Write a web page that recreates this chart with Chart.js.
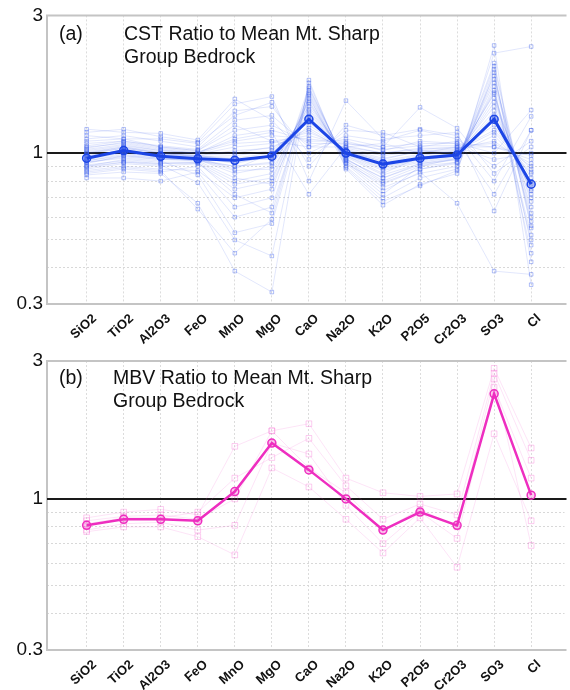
<!DOCTYPE html>
<html>
<head>
<meta charset="utf-8">
<script src="https://cdn.jsdelivr.net/npm/chart.js@4.4.1/dist/chart.umd.min.js"></script>
<style>
  html, body { margin: 0; padding: 0; background: #fff; }
  .wrap { position: absolute; left: 0; width: 570px; height: 345px; }
</style>
</head>
<body>
<div class="wrap" style="top:0"><canvas id="ca" width="570" height="345"></canvas></div>
<div class="wrap" style="top:345px"><canvas id="cb" width="570" height="345"></canvas></div>
<script>
const categories = ['SiO2','TiO2','Al2O3','FeO','MnO','MgO','CaO','Na2O','K2O','P2O5','Cr2O3','SO3','Cl'];

const yTickLabels = [3, 1, 0.3];
const yTicks = [0.3, 0.4, 0.5, 0.6, 0.7, 0.8, 0.9, 1, 2, 3];
const yGridValues = [0.4, 0.5, 0.6, 0.7, 0.8, 0.9];

const cstMean = [0.96, 1.02, 0.975, 0.955, 0.944, 0.976, 1.31, 1.0, 0.916, 0.96, 0.985, 1.31, 0.78];
const cstSamples = [
  [0.95, 1.02, 0.98, 0.97, 0.92, 0.98, 1.30, 1.00, 0.90, 0.95, 0.98, 1.30, 0.75],
  [1.10, 1.12, 1.05, 1.02, 1.25, 1.10, 1.05, 1.05, 1.08, 1.00, 1.05, 0.95, 1.00],
  [0.88, 0.92, 0.90, 0.92, 0.75, 0.80, 1.55, 0.95, 0.82, 0.92, 0.95, 1.75, 0.60],
  [0.85, 0.88, 0.86, 0.90, 0.65, 0.70, 1.70, 0.92, 0.78, 0.88, 0.92, 2.00, 0.55],
  [1.21, 1.18, 1.17, 1.11, 1.54, 1.30, 0.95, 1.20, 1.18, 1.05, 1.10, 0.72, 1.20],
  [1.00, 1.05, 1.00, 0.98, 1.00, 1.05, 1.20, 1.02, 0.95, 1.02, 1.00, 1.15, 0.85],
  [0.92, 0.98, 0.95, 0.95, 0.85, 0.90, 1.45, 0.98, 0.85, 0.97, 0.99, 1.60, 0.65],
  [1.05, 1.08, 1.03, 1.00, 1.15, 1.20, 1.10, 1.10, 1.02, 1.10, 1.08, 1.05, 0.95],
  [0.98, 1.00, 0.97, 0.96, 0.88, 1.00, 1.35, 1.00, 0.92, 0.96, 1.00, 1.45, 0.70],
  [0.90, 0.95, 0.93, 0.93, 0.80, 0.85, 1.50, 0.96, 0.80, 0.90, 0.96, 1.85, 0.58],
  [1.12, 1.15, 1.10, 1.05, 1.40, 1.45, 1.00, 1.15, 1.10, 1.20, 1.12, 0.90, 1.10],
  [0.96, 1.03, 0.99, 0.98, 0.95, 0.95, 1.25, 1.03, 0.93, 0.98, 1.02, 1.25, 0.80],
  [0.87, 0.90, 0.88, 0.87, 0.70, 0.75, 1.62, 0.94, 0.76, 0.85, 0.90, 2.22, 2.34],
  [1.02, 1.06, 1.02, 1.00, 1.08, 1.10, 1.15, 1.06, 1.00, 1.04, 1.04, 1.10, 0.90],
  [0.94, 0.99, 0.96, 0.94, 0.90, 0.92, 1.40, 0.99, 0.88, 0.94, 0.98, 1.55, 0.68],
  [1.08, 1.10, 1.06, 1.03, 1.30, 1.35, 1.05, 1.12, 1.05, 1.44, 1.22, 0.85, 1.05],
  [0.93, 0.96, 0.94, 0.84, 0.53, 0.57, 1.60, 0.92, 0.72, 0.90, 0.93, 1.70, 0.45],
  [0.99, 1.04, 1.00, 0.97, 0.98, 1.02, 1.28, 1.01, 0.94, 0.99, 1.01, 1.35, 0.78],
  [0.89, 0.93, 0.91, 0.79, 0.50, 0.44, 1.75, 0.90, 0.70, 0.82, 0.88, 1.95, 0.42],
  [1.15, 1.12, 1.12, 1.08, 1.35, 1.50, 0.90, 1.25, 1.15, 1.21, 1.15, 0.80, 1.34],
  [0.97, 1.01, 0.98, 0.96, 0.93, 0.97, 1.32, 1.00, 0.91, 0.96, 0.99, 1.40, 0.74],
  [0.84, 0.86, 0.85, 0.67, 0.39, 0.33, 1.79, 0.88, 0.66, 0.78, 0.85, 2.36, 0.35],
  [1.04, 1.09, 1.04, 1.01, 1.10, 1.15, 1.12, 1.08, 1.03, 1.06, 1.06, 1.08, 0.92],
  [0.91, 0.94, 0.92, 0.92, 0.78, 0.82, 1.52, 0.95, 0.82, 0.91, 0.95, 1.80, 0.62],
  [1.01, 1.05, 1.01, 0.99, 1.05, 1.08, 1.18, 1.04, 0.98, 1.02, 1.03, 1.20, 0.88],
  [0.86, 0.89, 0.87, 0.64, 0.45, 0.59, 1.68, 0.93, 0.74, 0.86, 0.67, 0.39, 0.38],
  [0.95, 1.00, 0.97, 0.95, 0.87, 0.88, 1.38, 0.98, 0.87, 0.93, 0.97, 1.62, 0.50],
  [1.06, 1.10, 1.05, 1.02, 1.20, 1.25, 1.08, 1.08, 1.05, 1.08, 1.08, 1.00, 1.41],
  [0.93, 0.97, 0.95, 0.94, 0.82, 0.78, 1.48, 0.97, 0.84, 0.92, 0.96, 1.65, 0.52],
  [0.98, 1.02, 0.99, 0.97, 0.96, 1.00, 1.28, 1.02, 0.92, 0.97, 1.00, 1.32, 0.82],
  [1.18, 1.21, 1.14, 1.09, 1.48, 1.57, 0.80, 1.52, 1.12, 1.15, 1.18, 0.63, 1.20],
  [0.82, 0.82, 0.80, 0.86, 0.60, 0.65, 1.58, 0.89, 0.68, 0.77, 0.87, 1.90, 0.48],
  [1.03, 1.07, 1.02, 1.00, 1.12, 1.18, 0.72, 1.05, 1.00, 1.03, 1.05, 1.05, 0.98],
  [0.94, 0.98, 0.96, 0.95, 0.90, 0.93, 1.42, 0.99, 0.89, 0.95, 0.98, 1.50, 0.72],
  [0.90, 0.93, 0.92, 0.93, 0.72, 0.62, 1.65, 0.94, 0.79, 0.88, 0.93, 2.05, 0.56],
  [1.00, 1.04, 1.00, 0.98, 1.02, 1.04, 1.22, 1.03, 0.96, 1.01, 1.02, 1.18, 0.86]
];

const mbvMean = [0.81, 0.85, 0.85, 0.84, 1.06, 1.56, 1.26, 1.0, 0.78, 0.90, 0.81, 2.31, 1.03];
const mbvSamples = [
  [0.86, 0.90, 0.92, 0.88, 1.52, 1.72, 1.82, 1.18, 1.05, 1.02, 1.04, 2.83, 1.50],
  [0.82, 0.86, 0.86, 0.90, 1.18, 1.39, 1.62, 1.11, 0.85, 0.96, 0.88, 2.72, 1.36],
  [0.78, 0.82, 0.83, 0.78, 0.81, 1.56, 1.43, 0.95, 0.70, 0.90, 0.73, 2.43, 1.18],
  [0.77, 0.80, 0.80, 0.74, 0.64, 1.28, 1.10, 0.85, 0.65, 0.86, 0.58, 1.68, 0.84],
  [0.84, 0.87, 0.88, 0.85, 1.00, 1.72, 1.28, 1.05, 0.78, 0.92, 0.80, 2.60, 0.69]
];

const FONT = "'Liberation Sans', Arial, sans-serif";

function toPts(arr) { return arr.map((v, i) => ({ x: i, y: v })); }

function makeChart(id, opts) {
  const datasets = [];
  opts.samples.forEach(s => {
    datasets.push({
      data: toPts(s),
      borderColor: opts.faint,
      borderWidth: 1,
      pointStyle: 'rect',
      pointRadius: opts.sqR,
      pointBorderWidth: 1,
      pointBorderColor: opts.faintPt,
      pointBackgroundColor: 'rgba(0,0,0,0)',
      order: 2
    });
  });
  datasets.push({
    data: toPts(opts.mean),
    borderColor: opts.main,
    borderWidth: opts.mainW,
    pointStyle: 'circle',
    pointRadius: 4,
    pointBorderWidth: 1.5,
    pointBorderColor: opts.main,
    pointBackgroundColor: opts.mainFill,
    order: 1
  });

  const decor = {
    id: 'decor',
    beforeDatasetsDraw(chart) {
      const { ctx, chartArea: a, scales: { y } } = chart;
      ctx.save();
      ctx.strokeStyle = '#c4c4c4';
      ctx.lineWidth = 2;
      ctx.beginPath();
      ctx.moveTo(a.right + 2, a.top);
      ctx.lineTo(a.left, a.top);
      ctx.lineTo(a.left, a.bottom);
      ctx.lineTo(a.right + 2, a.bottom);
      ctx.stroke();
      const y1 = y.getPixelForValue(1);
      ctx.strokeStyle = '#1a1a1a';
      ctx.lineWidth = 2;
      ctx.beginPath();
      ctx.moveTo(a.left, y1);
      ctx.lineTo(a.right + 2, y1);
      ctx.stroke();
      ctx.restore();
    },
    afterDraw(chart) {
      const { ctx } = chart;
      ctx.save();
      ctx.fillStyle = '#111';
      ctx.font = '19.5px ' + FONT;
      ctx.textBaseline = 'alphabetic';
      ctx.fillText(opts.tag, 59, opts.titleY);
      ctx.fillText(opts.title1, opts.titleX, opts.titleY);
      ctx.fillText(opts.title2, opts.titleX, opts.titleY + 22.5);
      ctx.restore();
    }
  };

  return new Chart(document.getElementById(id), {
    type: 'line',
    data: { datasets },
    plugins: [decor],
    options: {
      responsive: false,
      animation: false,
      devicePixelRatio: 1,
      layout: { padding: { top: opts.padTop, right: 1, left: 0, bottom: 0 } },
      plugins: { legend: { display: false }, tooltip: { enabled: false } },
      scales: {
        x: {
          type: 'linear',
          min: -1.07,
          max: 12.9,
          afterBuildTicks: axis => { axis.ticks = categories.map((c, i) => ({ value: i })); },
          afterFit: s => { s.height = opts.xH; },
          ticks: {
            autoSkip: false,
            maxRotation: 42,
            minRotation: 42,
            padding: 7,
            labelOffset: 8,
            color: '#111',
            font: { family: FONT, size: 13, weight: 'bold' },
            callback: v => categories[v]
          },
          grid: { color: '#dcdcdc', drawTicks: false },
          border: { display: false, dash: [2, 2] }
        },
        y: {
          type: 'logarithmic',
          min: 0.3,
          max: 3,
          afterBuildTicks: axis => { axis.ticks = yTicks.map(v => ({ value: v })); },
          afterFit: s => { s.width = 47; },
          ticks: {
            autoSkip: false,
            padding: 4,
            color: '#111',
            font: { family: FONT, size: 19 },
            callback: v => (yTickLabels.includes(v) ? String(v) : '')
          },
          grid: {
            drawTicks: false,
            color: c => (c.tick && yGridValues.includes(c.tick.value) ? '#d8d8d8' : 'rgba(0,0,0,0)')
          },
          border: { display: false, dash: [2, 2] }
        }
      }
    }
  });
}

makeChart('ca', {
  samples: cstSamples, mean: cstMean,
  faint: 'rgba(60,95,235,0.15)', faintPt: 'rgba(60,95,235,0.4)', sqR: 2.5,
  main: '#1c45e6', mainFill: 'rgba(28,69,230,0.25)', mainW: 3,
  padTop: 14, xH: 41,
  tag: '(a)', title1: 'CST Ratio to Mean Mt. Sharp', title2: 'Group Bedrock',
  titleX: 124, titleY: 40
});

makeChart('cb', {
  samples: mbvSamples, mean: mbvMean,
  faint: 'rgba(245,90,205,0.16)', faintPt: 'rgba(245,90,205,0.3)', sqR: 4,
  main: '#ee2ec0', mainFill: 'rgba(238,46,192,0.25)', mainW: 2.5,
  padTop: 16, xH: 40,
  tag: '(b)', title1: 'MBV Ratio to Mean Mt. Sharp', title2: 'Group Bedrock',
  titleX: 113, titleY: 39
});
</script>
</body>
</html>
